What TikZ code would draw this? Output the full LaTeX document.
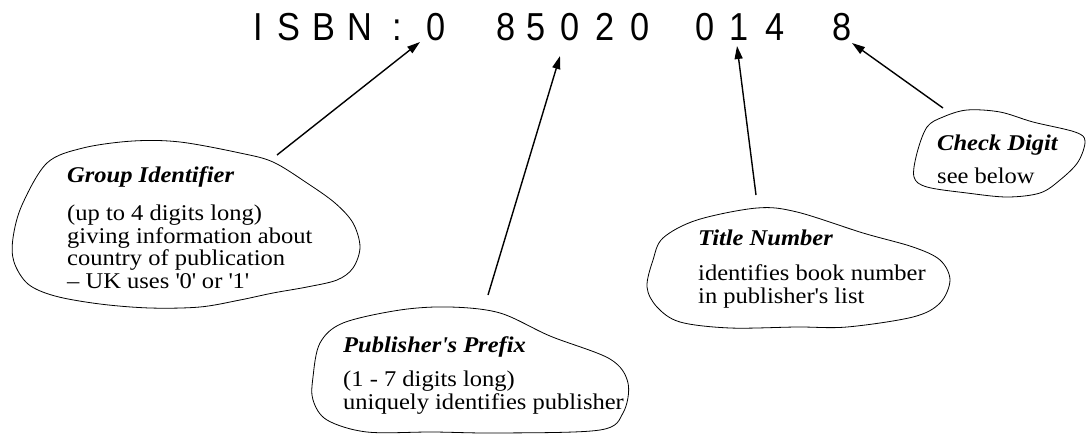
\documentclass[tikz,border=0pt]{standalone}
\usepackage{fontspec}
\setmainfont{Liberation Serif}[FakeStretch=1.09]
\newfontfamily\isbnfont{Liberation Sans}[FakeStretch=0.88]
\usetikzlibrary{arrows.meta}

\tikzset{
    isbnchar/.style = {inner sep = 0pt, anchor = base, font = \isbnfont\fontsize{39}{39}\selectfont},
    bubble/.style = {line width = 0.8pt, draw = black},
    headtext/.style = {inner sep = 0pt, anchor = base west, font = \fontsize{22.5}{22.5}\selectfont\bfseries\itshape},
    % base of a multi-line node = baseline of its last line
    bodytext/.style = {inner sep = 0pt, anchor = base west, align = left, font = \fontsize{22.5}{22.5}\selectfont},
    pointer/.style = {line width = 1.4pt, -{Triangle[length = 13pt, width = 8pt]}}
}

\begin{document}
\begin{tikzpicture}[x = 1pt, y = -1pt]
    \useasboundingbox (+0.0, +0.0) rectangle (+1087.0, +434.0);

    % === The number itself ===
    \foreach \c/\x [count = \i] in {I/258, S/289, B/324, N/360, :/397, 0/436,
        8/506, 5/536, 0/570, 2/605, 0/640, 0/705, 1/739, 4/775, 8/842}
        \node[isbnchar] (c\i) at (+\x, +40.0) {\c};

    % === Group identifier ===
    \draw[bubble] plot[smooth cycle, tension = 0.55] coordinates {
        (+47, +163) (+83, +148) (+133, +141) (+180, +142) (+240, +153) (+273, +162)
        (+307, +183) (+335, +203) (+353, +223) (+360, +247) (+353, +268) (+337, +280)
        (+307, +287) (+273, +293) (+240, +300) (+200, +307) (+150, +308) (+100, +304)
        (+55, +296) (+28, +284) (+14, +262) (+13, +238) (+22, +205)};
    \node[headtext] (grouphead) at (+67.0, +182.0) {Group Identifier};
    \node[bodytext] (groupbody) at (+67.0, +288.0)
        {(up to 4 digits long)\\giving information about\\country of publication\\%
        – UK uses \textquotesingle0\textquotesingle{} or \textquotesingle1\textquotesingle};

    % === Publisher's prefix ===
    \draw[bubble] plot[smooth cycle, tension = 0.55] coordinates {
        (+320, +343) (+343, +323) (+400, +310) (+450, +307) (+500, +313) (+550, +336)
        (+610, +359) (+628, +383) (+623, +413) (+600, +430) (+500, +433) (+433, +432)
        (+367, +432) (+327, +420) (+313, +400) (+313, +377)};
    \node[headtext] (pubhead) at (+343.0, +352.0) {Publisher\textquotesingle s Prefix};
    \node[bodytext] (pubbody) at (+343.0, +409.0)
        {(1 - 7 digits long)\\uniquely identifies publisher};

    % === Title number ===
    \draw[bubble] plot[smooth cycle, tension = 0.55] coordinates {
        (+663, +238) (+697, +220) (+757, +208) (+797, +212) (+863, +233) (+913, +247)
        (+940, +260) (+950, +280) (+940, +303) (+913, +317) (+847, +327) (+797, +327)
        (+730, +328) (+680, +322) (+657, +307) (+647, +287) (+653, +260)};
    \node[headtext] (titlehead) at (+698.0, +245.0) {Title Number};
    \node[bodytext] (titlebody) at (+698.0, +303.0)
        {identifies book number\\in publisher\textquotesingle s list};

    % === Check digit ===
    \draw[bubble] plot[smooth cycle, tension = 0.55] coordinates {
        (+943, +117) (+967, +110) (+1000, +112) (+1033, +122) (+1075, +132) (+1085, +141)
        (+1078, +162) (+1060, +180) (+1040, +193) (+1007, +197) (+967, +193) (+927, +187)
        (+914, +177) (+917, +153) (+927, +127)};
    \node[headtext] (checkhead) at (+937.0, +150.0) {Check Digit};
    \node[bodytext] (checkbody) at (+937.0, +183.0) {see below};

    % === Pointers from the bubbles to the digits ===
    \coordinate (groupfoot) at (+277.0, +155.0);
    \coordinate (grouptip) at (+420.0, +42.0);
    \coordinate (pubfoot) at (+488.0, +295.0);
    \coordinate (pubtip) at (+560.0, +56.0);
    \coordinate (titlefoot) at (+756.0, +195.0);
    \coordinate (titletip) at (+737.0, +46.0);
    \coordinate (checkfoot) at (+943.0, +108.0);
    \coordinate (checktip) at (+852.0, +43.0);

    \draw[pointer] (groupfoot) -- (grouptip);
    \draw[pointer] (pubfoot) -- (pubtip);
    \draw[pointer] (titlefoot) -- (titletip);
    \draw[pointer] (checkfoot) -- (checktip);
\end{tikzpicture}
\end{document}
